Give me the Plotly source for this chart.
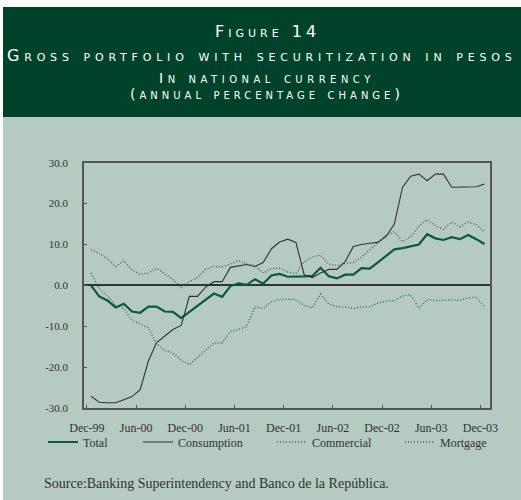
import plotly.graph_objects as go

tick_labels = ["Dec-99", "Jun-00", "Dec-00", "Jun-01", "Dec-01", "Jun-02", "Dec-02", "Jun-03", "Dec-03"]
y_ticks = [-30, -20, -10, 0, 10, 20, 30]

total = [0.0, -2.7, -3.7, -5.4, -4.5, -6.4, -6.7, -5.2, -5.2, -6.4,
         -6.5, -8.0, -6.5, -5.0, -3.5, -2.0, -2.8, -0.2, 0.5, 0.1,
         1.5, 0.4, 2.4, 2.8, 2.1, 2.1, 2.2, 2.3, 4.3, 2.2,
         1.7, 2.6, 2.6, 4.2, 4.1, 5.6, 7.2, 8.8, 9.1, 9.5,
         10.0, 12.5, 11.5, 11.1, 11.8, 11.3, 12.3, 11.3, 10.1]
consumption = [-27.1, -28.6, -28.7, -28.7, -28.0, -27.2, -25.5, -18.5, -14.0, -12.3,
               -10.8, -9.8, -2.7, -2.7, -0.4, 0.9, 0.9, 4.4, 4.8, 5.1,
               4.6, 5.6, 8.9, 10.6, 11.3, 10.5, 2.6, 1.9, 3.0, 3.9,
               3.9, 5.8, 9.5, 10.0, 10.3, 10.5, 12.0, 15.0, 24.0, 26.7,
               27.2, 25.6, 27.2, 27.2, 24.0, 24.0, 24.0, 24.1, 24.8]
commercial = [8.7, 7.8, 6.5, 4.6, 6.0, 3.8, 2.7, 3.0, 4.2, 2.8,
              1.4, -0.6, 0.9, 1.9, 3.9, 4.7, 4.5, 5.2, 6.1, 5.2,
              4.8, 3.0, 4.1, 4.2, 3.3, 2.9, 5.8, 6.9, 7.4, 5.2,
              4.8, 5.4, 5.6, 6.9, 8.7, 10.7, 12.3, 13.1, 10.7, 11.9,
              14.5, 16.1, 14.6, 13.7, 15.5, 14.3, 15.5, 14.8, 13.1]
mortgage = [3.0, -0.8, -2.6, -4.9, -5.6, -8.6, -9.4, -10.4, -14.3, -15.9,
            -16.5, -18.4, -19.4, -17.6, -15.9, -14.1, -14.1, -11.3, -10.8, -10.0,
            -5.2, -5.7, -4.0, -3.5, -3.4, -3.5, -4.9, -5.5, -2.1, -4.6,
            -5.2, -5.3, -5.6, -5.3, -5.2, -4.3, -3.9, -3.7, -2.6, -2.3,
            -5.6, -3.5, -3.7, -3.7, -3.5, -3.7, -3.1, -2.9, -5.2]

x = list(range(len(total)))
tick_vals = [i * 6 - 0.5 for i in range(len(tick_labels))]

W, H = 521, 500
serif = "Liberation Serif, Times New Roman, serif"
txt = "#333333"

fig = go.Figure()
series = [
    ("Total", total, dict(color="#0b5a3b", width=2.2), "legend"),
    ("Consumption", consumption, dict(color="#333333", width=1.1), "legend2"),
    ("Commercial", commercial, dict(color="#555555", width=1.4, dash="1px,2px"), "legend3"),
    ("Mortgage", mortgage, dict(color="#2b6b4b", width=1.4, dash="1px,2px"), "legend4"),
]
for name, vals, line, lg in series:
    fig.add_trace(go.Scatter(x=x, y=vals, mode="lines", name=name, line=line,
                             legend=lg, showlegend=True))

def px(v):
    return v / W

def py(v):
    return 1 - v / H

legend_common = dict(orientation="h", yanchor="middle", xanchor="left",
                     font=dict(family=serif, size=12, color=txt),
                     bgcolor="rgba(0,0,0,0)", borderwidth=0, itemwidth=30)

fig.update_layout(
    width=W, height=H,
    margin=dict(l=0, r=0, t=0, b=0, autoexpand=False),
    paper_bgcolor="white",
    plot_bgcolor="rgba(0,0,0,0)",
    showlegend=True,
    legend=dict(x=px(43), y=py(442), **legend_common),
    legend2=dict(x=px(138), y=py(442), **legend_common),
    legend3=dict(x=px(272), y=py(442), **legend_common),
    legend4=dict(x=px(400), y=py(442), **legend_common),
    xaxis=dict(domain=[px(84), px(490)], range=[-0.854, 48.67],
               tickvals=tick_vals, ticktext=tick_labels,
               ticks="inside", ticklen=3, tickcolor="#555555",
               showline=True, mirror=True, linecolor="#555555", linewidth=1.5,
               showgrid=False, zeroline=False, automargin=False,
               tickfont=dict(family=serif, size=12, color=txt),
               ticklabelstandoff=8),
    yaxis=dict(domain=[py(408), py(162.7)], range=[-30, 30],
               tickvals=y_ticks, ticktext=[f"{v:.1f}" for v in y_ticks],
               ticks="inside", ticklen=3, tickcolor="#555555",
               showline=True, mirror=True, linecolor="#555555", linewidth=1.5,
               showgrid=False, zeroline=True, zerolinecolor="#333333", zerolinewidth=1.5,
               automargin=False,
               tickfont=dict(family=serif, size=11, color=txt),
               ticklabelstandoff=12),
)

# panel backgrounds
fig.add_shape(type="rect", xref="paper", yref="paper", x0=px(3), x1=1, y0=py(117), y1=py(7),
              fillcolor="#01432a", line=dict(width=0), layer="below")
fig.add_shape(type="rect", xref="paper", yref="paper", x0=px(3), x1=1, y0=0, y1=py(117),
              fillcolor="#b5cac0", line=dict(width=0), layer="below")

title_font = dict(family="DejaVu Sans", color="white", variant="small-caps")
titles = [
    ("Figure 14", 31, 16, 4, 267),
    ("Gross portfolio with securitization in pesos", 56, 16, 4.8, 262),
    ("In national currency", 78, 14, 4.5, 267),
    ("(annual percentage change)", 94, 14, 4, 267),
]
for t, yy, sz, ls, cx in titles:
    fig.add_annotation(text=f"<span style='letter-spacing:{ls}px'>{t}</span>",
                       xref="paper", yref="paper", x=px(cx), y=py(yy),
                       xanchor="center", yanchor="middle", showarrow=False,
                       font=dict(size=sz, **title_font))

fig.add_annotation(text="Source:Banking Superintendency and Banco de la República.",
                   xref="paper", yref="paper", x=px(42), y=py(483),
                   xanchor="left", yanchor="middle", showarrow=False,
                   font=dict(family=serif, size=14, color=txt))

fig.write_html("out.html", config={"displayModeBar": False},
               post_script="document.body.style.margin='0';")
